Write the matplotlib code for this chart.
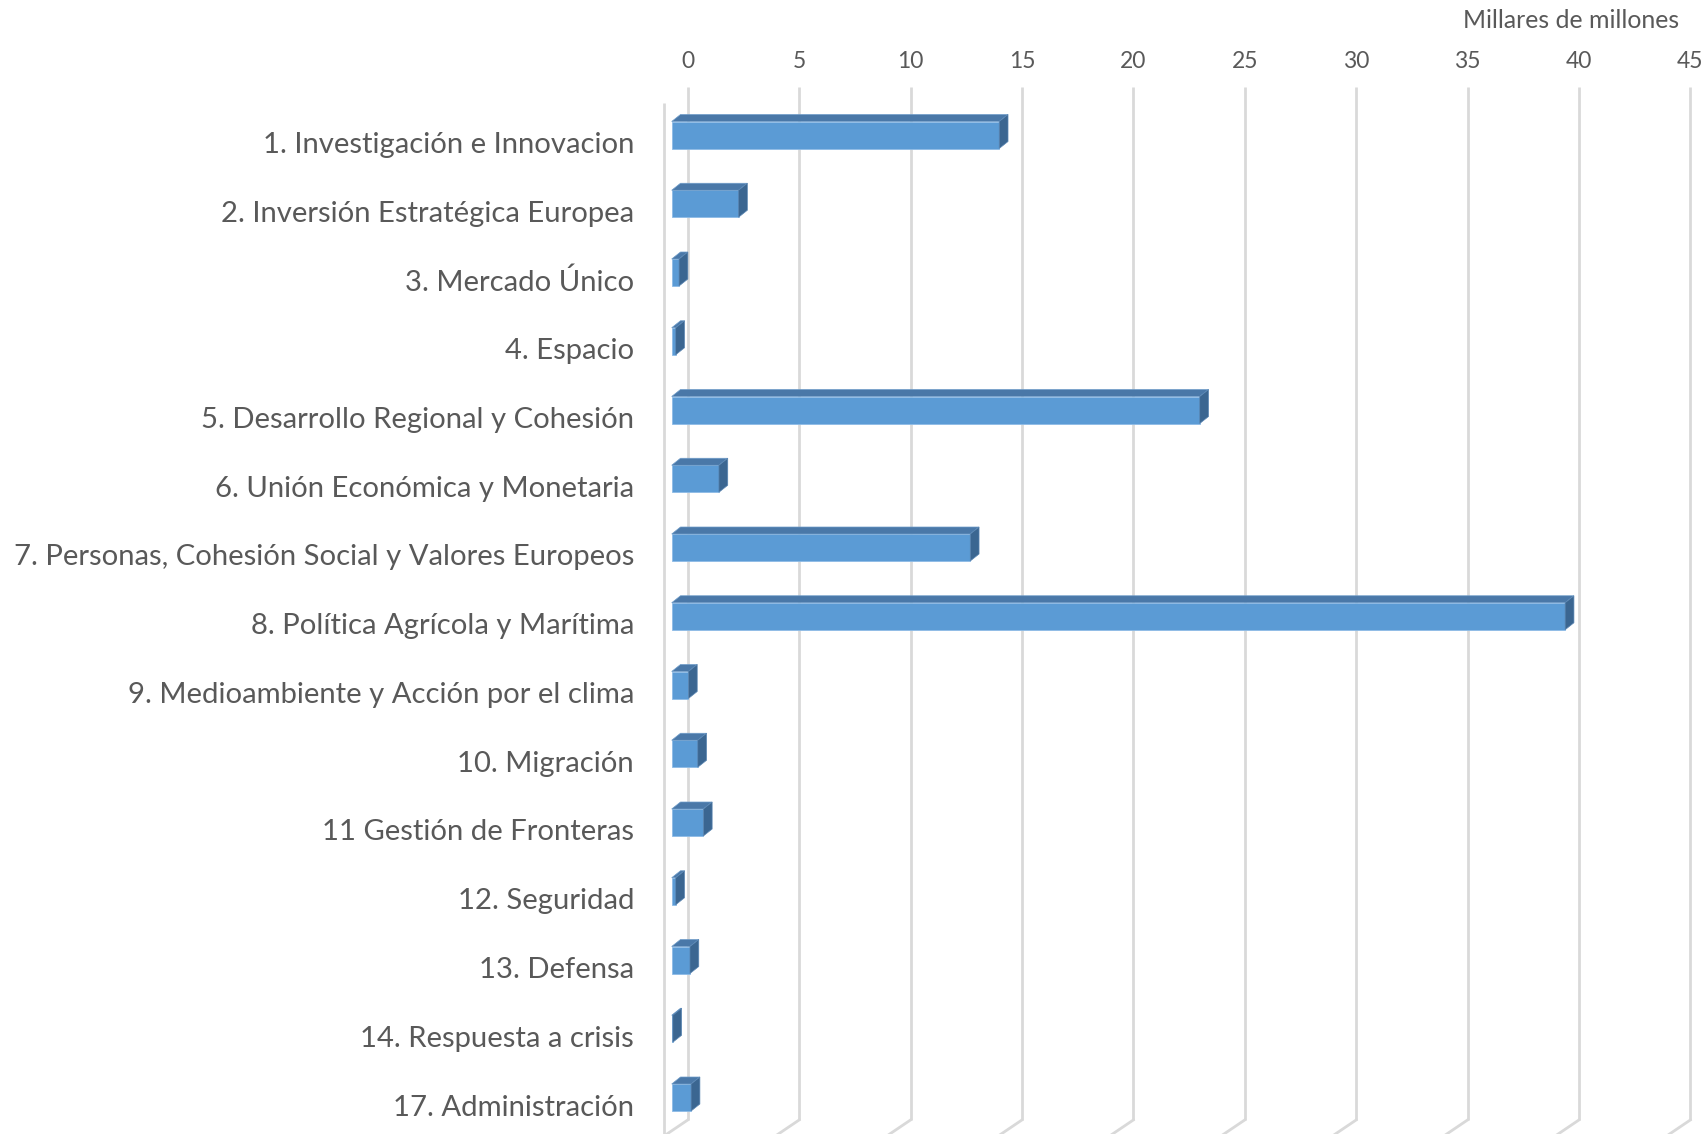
import matplotlib
matplotlib.use('Agg')
import matplotlib.pyplot as plt
from matplotlib.patches import Polygon

# ---------------- data ----------------
categories = [
    "1. Investigación e Innovacion",
    "2. Inversión Estratégica Europea",
    "3. Mercado Único",
    "4. Espacio",
    "5. Desarrollo Regional y Cohesión",
    "6. Unión Económica y Monetaria",
    "7. Personas, Cohesión Social y Valores Europeos",
    "8. Política Agrícola y Marítima",
    "9. Medioambiente y Acción por el clima",
    "10. Migración",
    "11 Gestión de Fronteras",
    "12. Seguridad",
    "13. Defensa",
    "14. Respuesta a crisis",
    "17. Administración",
]
values = [14.7, 3.0, 0.33, 0.18, 23.7, 2.12, 13.4, 40.1, 0.75, 1.17, 1.42, 0.18, 0.82, 0.05, 0.87]
ticks = [0, 5, 10, 15, 20, 25, 30, 35, 40, 45]
unit_label = "Millares de millones"

# ---------------- layout / style ----------------
W, H = 1703, 1134
PX_PER_UNIT = 22.28     # pixels per value unit
X0 = 671.7              # pixel x of value 0 on the bar front plane
Y0 = 135.0              # pixel y of first category centre
PX_PER_CAT = 68.75      # pixels between categories
BAR_H_PX = 27.0
BAR_DX, BAR_DY = 8.8, 7.0        # bar depth (px)
WALL_DX, WALL_DY = 16.0, 11.0    # bar front plane -> back wall (px)
FRONT_DX, FRONT_DY = 7.7, 5.2    # bar front plane -> chart front edge (px)
FLOOR_DX, FLOOR_DY = 23.7, 16.0  # full depth
WALL_TOP_PX, WALL_BOT_PX = 87.3, 1120.0

C_FRONT = "#5B9BD5"
C_TOP = "#4A78A8"
C_SIDE = "#3B6691"
C_GRID = "#D9D9D9"
C_TEXT = "#595959"
FONT = ["Lato", "DejaVu Sans"]

fig = plt.figure(figsize=(W / 100, H / 100), dpi=100)
ax = fig.add_axes([0, 0, 1, 1])
ax.set_xlim(-X0 / PX_PER_UNIT, (W - X0) / PX_PER_UNIT)
ax.set_ylim((H - Y0) / PX_PER_CAT, -Y0 / PX_PER_CAT)
ax.axis('off')


def ox(px):
    return px / PX_PER_UNIT


def oy(px):
    return px / PX_PER_CAT


def py(pix):
    return (pix - Y0) / PX_PER_CAT


# back-wall gridlines with floor diagonals
for t in ticks:
    xb = t + ox(WALL_DX)
    ax.plot([xb, xb], [py(WALL_TOP_PX), py(WALL_BOT_PX)], color=C_GRID, lw=2.0,
            solid_capstyle='butt', zorder=1)
    ax.plot([xb, xb - ox(FLOOR_DX)], [py(WALL_BOT_PX), py(WALL_BOT_PX) + oy(FLOOR_DY)],
            color=C_GRID, lw=2.0, zorder=1)
    ax.text(xb, py(61), str(t), ha='center', va='center', fontsize=16.5,
            color=C_TEXT, family=FONT)

# front edge of the side floor at value 0
xf = ox(-FRONT_DX)
ax.plot([xf, xf], [py(WALL_TOP_PX) + oy(FLOOR_DY), py(WALL_BOT_PX) + oy(FLOOR_DY)],
        color=C_GRID, lw=2.0, solid_capstyle='butt', zorder=1)

unit_txt = ax.text(ox(1679 - X0), py(21), unit_label, ha='right', va='center',
                   fontsize=17, color=C_TEXT, family=FONT)

# bars
ypos = list(range(len(categories)))
h = BAR_H_PX / PX_PER_CAT
ax.barh(ypos, values, height=h, left=0, color=C_FRONT, edgecolor="#8DBBE6",
        linewidth=0.6, zorder=3)
dx, dy = ox(BAR_DX), oy(BAR_DY)
for y, v in zip(ypos, values):
    top = y - h / 2
    bot = y + h / 2
    ax.add_patch(Polygon([(0, top), (v, top), (v + dx, top - dy), (dx, top - dy)],
                         closed=True, facecolor=C_TOP, edgecolor="#6E9CC9", lw=0.5, zorder=3))
    ax.add_patch(Polygon([(v, top), (v + dx, top - dy), (v + dx, bot - dy), (v, bot)],
                         closed=True, facecolor=C_SIDE, edgecolor="#5A86B3", lw=0.5, zorder=3))

# category labels
labels = []
for y, c in zip(ypos, categories):
    labels.append(ax.text(ox(634 - X0), y + oy(10), c, ha='right', va='center',
                          fontsize=19, color=C_TEXT, family=FONT))

# fit text sizes so widths match the reference
fig.canvas.draw()
r = fig.canvas.get_renderer()
wmax = max(t.get_window_extent(r).width for t in labels)
scale = 621.0 / wmax
for t in labels:
    t.set_fontsize(19 * scale)
wu = unit_txt.get_window_extent(r).width
unit_txt.set_fontsize(17 * 216.0 / wu)

fig.savefig("out.png", dpi=100)
